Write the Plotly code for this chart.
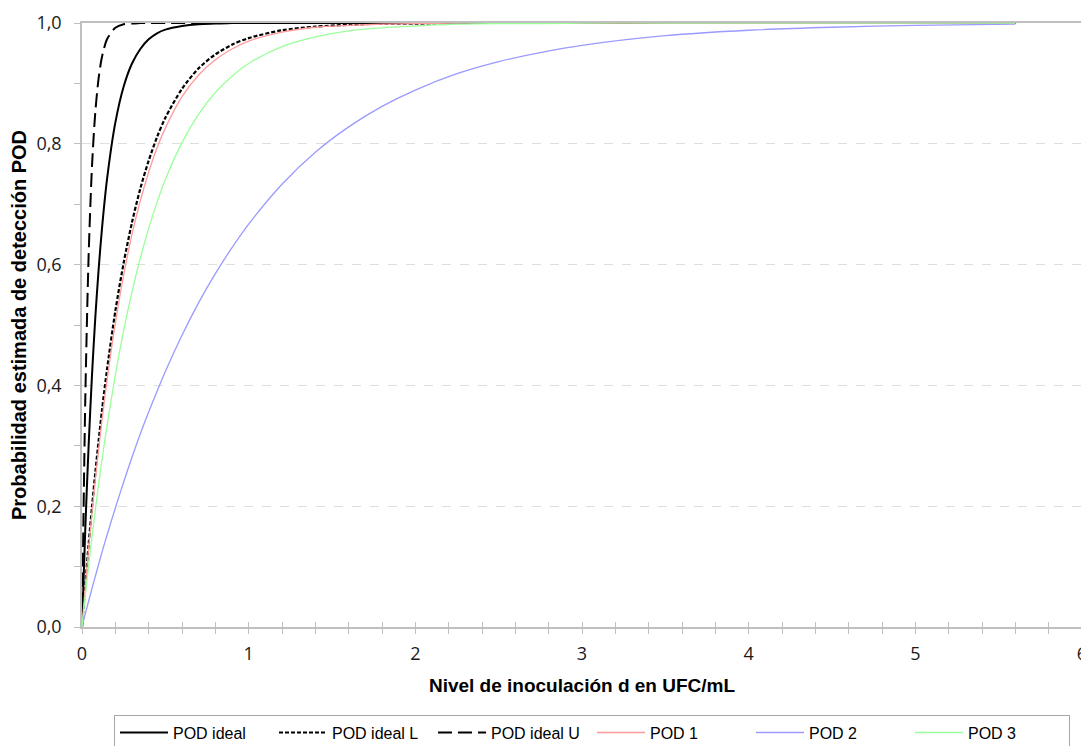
import plotly.graph_objects as go

# Inoculation level d (UFC/mL)
d = [0, 0.02, 0.04, 0.06, 0.08, 0.1, 0.12, 0.15, 0.2, 0.25, 0.3, 0.35, 0.4, 0.45, 0.5, 0.6,
     0.7, 0.8, 0.9, 1.0, 1.2, 1.4, 1.6, 1.8, 2.0, 2.25, 2.5, 2.75, 3.0, 3.5, 4.0, 4.5, 5.0, 5.6]

pod_ideal = [0, 0.165, 0.302, 0.417, 0.513, 0.593, 0.660, 0.741, 0.835, 0.895, 0.933, 0.957,
             0.973, 0.983, 0.989, 0.995, 0.998, 0.999, 1, 1, 1, 1, 1, 1, 1, 1, 1, 1, 1, 1, 1,
             1, 1, 1]
pod_ideal_L = [0, 0.071, 0.138, 0.199, 0.256, 0.309, 0.359, 0.426, 0.523, 0.603, 0.670, 0.726,
               0.772, 0.811, 0.843, 0.891, 0.925, 0.948, 0.964, 0.975, 0.988, 0.994, 0.997,
               0.999, 0.999, 1, 1, 1, 1, 1, 1, 1, 1, 1]
pod_ideal_U = [0, 0.381, 0.617, 0.763, 0.853, 0.909, 0.944, 0.973, 0.992, 0.998, 0.999, 1,
               1, 1, 1, 1, 1, 1, 1, 1, 1, 1, 1, 1, 1, 1, 1, 1, 1, 1, 1, 1, 1, 1]
pod_1 = [0, 0.068, 0.131, 0.189, 0.244, 0.295, 0.343, 0.408, 0.503, 0.583, 0.650, 0.706,
         0.753, 0.793, 0.826, 0.878, 0.914, 0.939, 0.957, 0.970, 0.985, 0.993, 0.996, 0.998,
         0.999, 1, 1, 1, 1, 1, 1, 1, 1, 1]
pod_2 = [0, 0.022, 0.043, 0.064, 0.084, 0.104, 0.124, 0.152, 0.197, 0.240, 0.281, 0.320,
         0.356, 0.390, 0.423, 0.483, 0.537, 0.585, 0.628, 0.667, 0.733, 0.786, 0.828, 0.862,
         0.889, 0.916, 0.936, 0.951, 0.963, 0.979, 0.988, 0.993, 0.996, 0.998]
pod_3 = [0, 0.053, 0.102, 0.150, 0.194, 0.237, 0.277, 0.333, 0.417, 0.491, 0.555, 0.611,
         0.660, 0.703, 0.741, 0.802, 0.849, 0.885, 0.912, 0.933, 0.961, 0.977, 0.987, 0.992,
         0.995, 0.998, 0.999, 0.999, 1, 1, 1, 1, 1, 1]

series_names = ["POD ideal", "POD ideal L", "POD ideal U", "POD 1", "POD 2", "POD 3"]
series_values = [pod_ideal, pod_ideal_L, pod_ideal_U, pod_1, pod_2, pod_3]
series_styles = [
    dict(color="#000000", width=2, dash="solid"),
    dict(color="#000000", width=2.2, dash="4px,2px"),
    dict(color="#000000", width=2, dash="14px,6px"),
    dict(color="#ff9a9a", width=1.3, dash="solid"),
    dict(color="#9a9aff", width=1.3, dash="solid"),
    dict(color="#9aff9a", width=1.3, dash="solid"),
]

titlefont_family = "Liberation Sans, Arial, sans-serif"
tickfont = dict(family="Open Sans, sans-serif", size=18, color="#1a1a1a")
axis_gray = "#bfbfbf"

fig = go.Figure()
for i in range(6):
    fig.add_trace(go.Scatter(
        x=d, y=series_values[i], mode="lines", name=series_names[i],
        line=dict(shape="spline", smoothing=0.8, **series_styles[i]),
        hoverinfo="skip",
    ))

# invisible trace on overlay axis for inward tick marks
fig.add_trace(go.Scatter(x=[0, 6], y=[0, 0], xaxis="x2", mode="lines",
                         line=dict(width=0), showlegend=False, hoverinfo="skip"))

# page body has an 8px margin, so the figure is a little smaller than the window
fig.update_layout(
    width=1081, height=738,
    margin=dict(l=74, r=7, t=15, b=119, autoexpand=False),
    paper_bgcolor="white", plot_bgcolor="white",
    separators=",.",
    showlegend=True,
    legend=dict(
        orientation="h", x=0.032, xanchor="left", y=-0.145, yanchor="top",
        bordercolor="#a6a6a6", borderwidth=1, bgcolor="white",
        font=dict(family=titlefont_family, size=16, color="#000000"),
        entrywidth=96, itemwidth=48, traceorder="normal",
    ),
    xaxis=dict(
        range=[0, 6], dtick=1, tick0=0, tickformat="d",
        showgrid=False, zeroline=False, ticklabeloverflow="allow", ticklabelstandoff=5,
        showline=True, linecolor=axis_gray, linewidth=1.5, mirror=True,
        ticks="outside", ticklen=5, tickcolor=axis_gray, tickwidth=1.2,
        minor=dict(dtick=0.2, ticks="outside", ticklen=5, tickcolor=axis_gray, tickwidth=1.2),
        tickfont=tickfont,
        title=dict(text="<b>Nivel de inoculación d en UFC/mL</b>",
                   font=dict(family=titlefont_family, size=19, color="#000000"), standoff=14),
    ),
    xaxis2=dict(
        range=[0, 6], overlaying="x", anchor="y", side="bottom", dtick=1, tick0=0,
        showgrid=False, zeroline=False, showline=False, showticklabels=False,
        ticks="inside", ticklen=5, tickcolor=axis_gray, tickwidth=1.2,
        minor=dict(dtick=0.2, ticks="inside", ticklen=5, tickcolor=axis_gray, tickwidth=1.2),
    ),
    yaxis=dict(
        range=[0, 1], dtick=0.2, tick0=0, tickformat=".1f",
        showgrid=True, gridcolor="#dedede", griddash="dash", gridwidth=1,
        zeroline=False, ticklabelstandoff=9,
        showline=True, linecolor=axis_gray, linewidth=1.5, mirror=True,
        ticks="outside", ticklen=6, tickcolor=axis_gray, tickwidth=1.2,
        minor=dict(dtick=0.1, ticks="outside", ticklen=6, tickcolor=axis_gray, tickwidth=1.2,
                   showgrid=False),
        tickfont=tickfont,
        title=dict(text="<b>Probabilidad estimada de detección POD</b>",
                   font=dict(family=titlefont_family, size=20, color="#000000"), standoff=6),
    ),
)

fig.write_html("out.html")
